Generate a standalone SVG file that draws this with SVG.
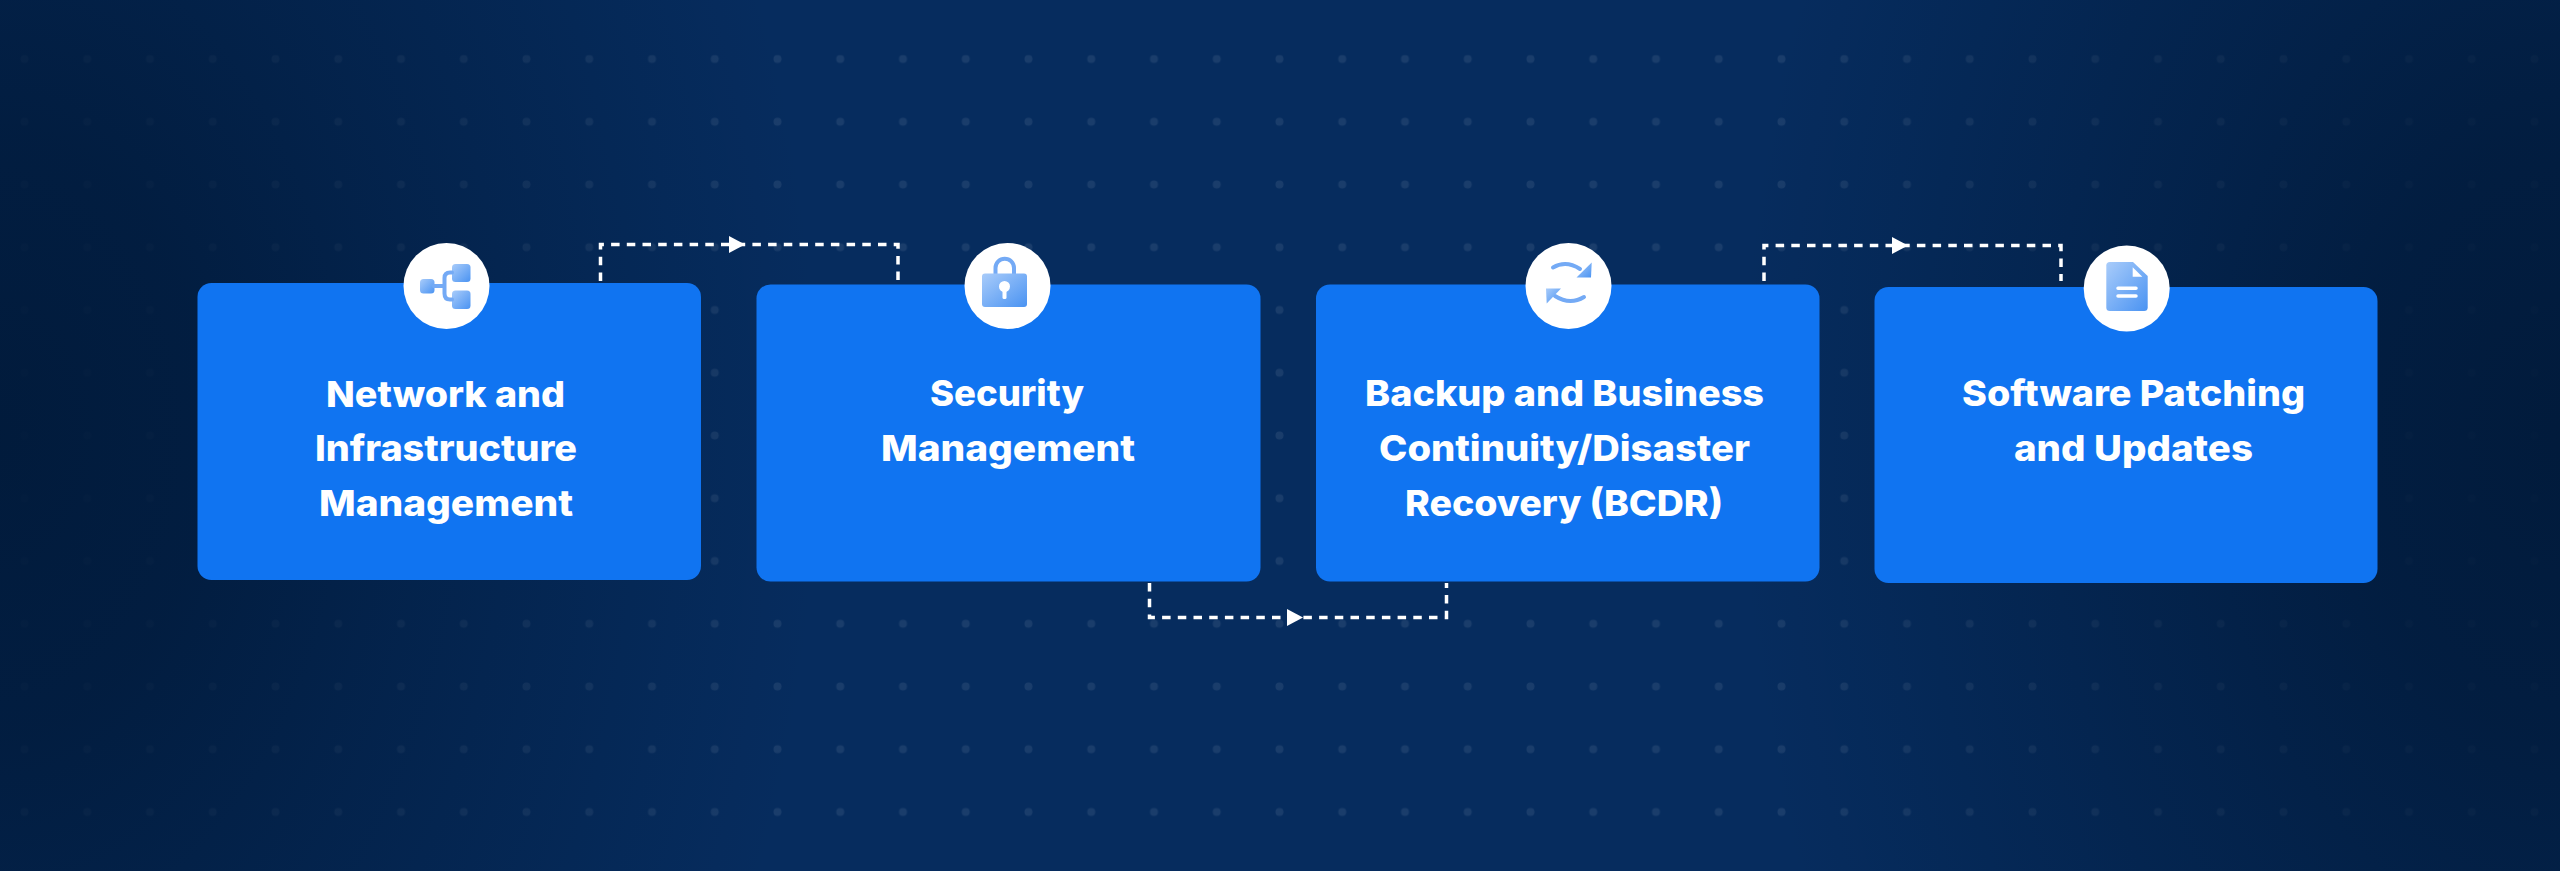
<svg xmlns="http://www.w3.org/2000/svg" width="2560" height="871" viewBox="0 0 2560 871">
<style>
.box{fill:#1074f1}
.disc{fill:#fff}
.t{font-family:"Inter","Liberation Sans",sans-serif;font-weight:800;font-size:36px;fill:#fff}
.c{fill:none;stroke:#fff;stroke-width:3.5;stroke-dasharray:8.5 7.2}
.a{fill:#fff}
.ic{fill:url(#ig)}
.is{fill:none;stroke:#74aaf5;stroke-width:4;stroke-linecap:round}
</style>
<defs>
<radialGradient id="d" cx=".5" cy=".5" r=".5"><stop offset="0" stop-color="#011a3a" stop-opacity=".95"/><stop offset=".25" stop-color="#011a3a" stop-opacity=".82"/><stop offset=".5" stop-color="#011a3a" stop-opacity=".52"/><stop offset=".83" stop-color="#011a3a" stop-opacity=".17"/><stop offset="1" stop-color="#011a3a" stop-opacity="0"/></radialGradient>
<linearGradient id="ig" x1="0" y1="0" x2="1" y2="1"><stop offset="0" stop-color="#a9ccfa"/><stop offset="1" stop-color="#4a93f2"/></linearGradient>
<pattern id="dp" x="20" y="54.500" width="62.75" height="62.75" patternUnits="userSpaceOnUse"><circle cx="4.500" cy="4.500" r="4" fill="#fff" fill-opacity=".08"/></pattern>
</defs>
<g id="background">
<rect width="2560" height="871" fill="#062c5e"/>
<rect x="20" y="54.500" width="2525" height="765" fill="url(#dp)"/>
<ellipse cx="0" cy="435" rx="820" ry="1200" fill="url(#d)"/>
<ellipse cx="2560" cy="435" rx="820" ry="1200" fill="url(#d)"/>
</g>
<g id="connectors">
<path class="c" d="M600.500 281V244.500H898V281"/>
<path class="c" d="M1149.500 583V617.500H1446.500V583"/>
<path class="c" d="M1764 281V245.500H2061V281"/>
<path class="a" d="M729 236L745 244.500L729 253Z"/>
<path class="a" d="M1287 609L1303 617.500L1287 626Z"/>
<path class="a" d="M1892 237L1908 245.500L1892 254Z"/>
</g>
<g id="node-network">
<rect class="box" x="197.500" y="283" width="503.500" height="297" rx="14"/>
<circle class="disc" cx="446.500" cy="286" r="43"/>
<rect class="ic" x="420" y="279" width="14.500" height="14.500" rx="3.500"/>
<rect class="ic" x="452" y="264" width="18.500" height="18" rx="3.500"/>
<rect class="ic" x="452" y="290.500" width="18.500" height="18.500" rx="3.500"/>
<path class="is" d="M434 286H444M452 272.500H450Q444.500 272.500 444.500 278V293.500Q444.500 299.500 450 299.500H452"/>
<text class="t" x="326" y="407" textLength="239" lengthAdjust="spacingAndGlyphs">Network and</text>
<text class="t" x="315" y="461" textLength="262" lengthAdjust="spacingAndGlyphs">Infrastructure</text>
<text class="t" x="319" y="516" textLength="254" lengthAdjust="spacingAndGlyphs">Management</text>
</g>
<g id="node-security">
<rect class="box" x="756.500" y="284.500" width="504" height="297" rx="14"/>
<circle class="disc" cx="1007.500" cy="286" r="43"/>
<path class="is" d="M995.500 274V268A9.200 9.200 0 0 1 1014 268V274"/>
<rect class="ic" x="982" y="273.500" width="45" height="33.500" rx="3"/>
<circle class="disc" cx="1004.500" cy="286.500" r="5.500"/>
<rect class="disc" x="1002.500" y="288" width="4" height="11" rx="1.500"/>
<text class="t" x="930" y="406" textLength="154" lengthAdjust="spacingAndGlyphs">Security</text>
<text class="t" x="881" y="461" textLength="254" lengthAdjust="spacingAndGlyphs">Management</text>
</g>
<g id="node-backup">
<rect class="box" x="1316" y="284.500" width="503.500" height="297" rx="14"/>
<circle class="disc" cx="1568.500" cy="286" r="43"/>
<path class="is" d="M1553 267.500Q1566 260 1580 269"/>
<path class="is" d="M1584 297Q1570 305.500 1555 296"/>
<path class="ic" d="M1591.700 262.500L1591 277.500H1576.500Z"/>
<path class="ic" d="M1546 288.500H1561L1546.700 303.500Z"/>
<text class="t" x="1365" y="406" textLength="399" lengthAdjust="spacingAndGlyphs">Backup and Business</text>
<text class="t" x="1379" y="461" textLength="371" lengthAdjust="spacingAndGlyphs">Continuity/Disaster</text>
<text class="t" x="1405" y="516" textLength="318" lengthAdjust="spacingAndGlyphs">Recovery (BCDR)</text>
</g>
<g id="node-software">
<rect class="box" x="1874.500" y="287" width="503" height="296" rx="14"/>
<circle class="disc" cx="2126.700" cy="288.500" r="43"/>
<path class="ic" d="M2110 262H2133L2147.700 276V307.500Q2147.700 311 2144 311H2110Q2106.300 311 2106.300 307.500V265.500Q2106.300 262 2110 262Z"/>
<path class="disc" d="M2132.700 267.300V276.700H2142.300Z"/>
<path d="M2118 288.300H2136M2118 296H2136" fill="none" stroke="#fff" stroke-width="3.500" stroke-linecap="round"/>
<text class="t" x="1962" y="406" textLength="343" lengthAdjust="spacingAndGlyphs">Software Patching</text>
<text class="t" x="2014" y="461" textLength="239" lengthAdjust="spacingAndGlyphs">and Updates</text>
</g>
</svg>
